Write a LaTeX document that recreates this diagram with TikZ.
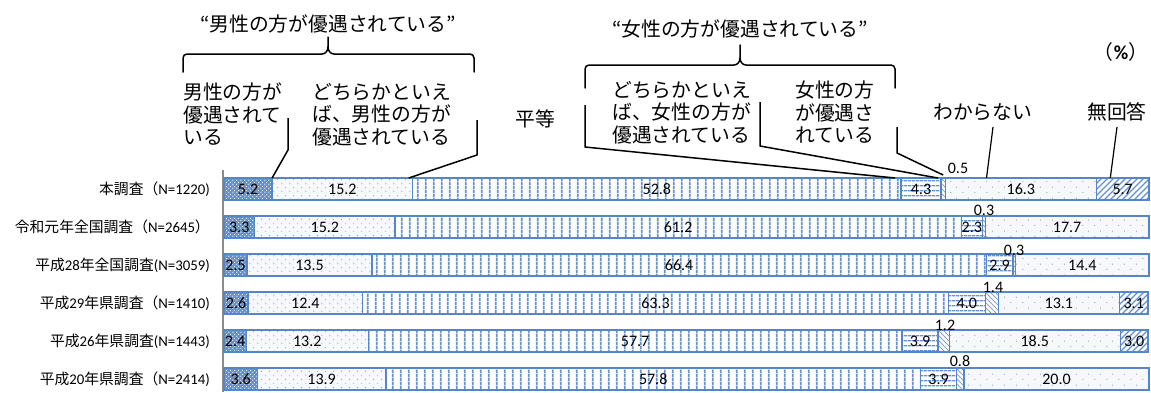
\documentclass[tikz,border=0pt]{standalone}
\usepackage{fontspec}
\setmainfont{Carlito}
\newfontfamily\jp{Noto Sans CJK JP}
\usetikzlibrary{patterns,calc}

\definecolor{bcol}{RGB}{84,134,200}
\definecolor{lcol}{RGB}{100,145,210}
\definecolor{cbg}{RGB}{100,145,210}
\definecolor{dotcol}{RGB}{145,152,165}
\definecolor{bgtwo}{RGB}{246,248,252}
\definecolor{diacol}{RGB}{140,165,200}
\definecolor{axcol}{RGB}{140,140,140}

\pgfdeclarepatternformonly{chk}{\pgfqpoint{0pt}{0pt}}{\pgfqpoint{4pt}{4pt}}{\pgfqpoint{4pt}{4pt}}{%
  \pgfpathcircle{\pgfqpoint{1pt}{1pt}}{0.8pt}\pgfpathcircle{\pgfqpoint{3pt}{3pt}}{0.8pt}\pgfusepath{fill}}
\pgfdeclarepatternformonly{dotsA}{\pgfqpoint{0pt}{0pt}}{\pgfqpoint{8pt}{8pt}}{\pgfqpoint{8pt}{8pt}}{%
  \pgfpathcircle{\pgfqpoint{2pt}{2pt}}{0.65pt}\pgfpathcircle{\pgfqpoint{6pt}{6pt}}{0.65pt}\pgfusepath{fill}}
\pgfdeclarepatternformonly{dotsB}{\pgfqpoint{0pt}{0pt}}{\pgfqpoint{12pt}{11pt}}{\pgfqpoint{12pt}{11pt}}{%
  \pgfpathcircle{\pgfqpoint{3pt}{2.75pt}}{0.65pt}\pgfpathcircle{\pgfqpoint{9pt}{8.25pt}}{0.65pt}\pgfusepath{fill}}
\pgfdeclarepatternformonly{vl}{\pgfqpoint{0pt}{0pt}}{\pgfqpoint{8.3pt}{4pt}}{\pgfqpoint{8.3pt}{4pt}}{%
  \pgfpathrectangle{\pgfqpoint{3.2pt}{0pt}}{\pgfqpoint{1.9pt}{4pt}}\pgfusepath{fill}}
\pgfdeclarepatternformonly{hl}{\pgfqpoint{0pt}{0pt}}{\pgfqpoint{4pt}{5pt}}{\pgfqpoint{4pt}{5pt}}{%
  \pgfpathrectangle{\pgfqpoint{0pt}{1.8pt}}{\pgfqpoint{4pt}{1.5pt}}\pgfusepath{fill}}
\pgfdeclarepatternformonly{nel}{\pgfqpoint{-1pt}{-1pt}}{\pgfqpoint{7pt}{7pt}}{\pgfqpoint{6pt}{6pt}}{%
  \pgfsetlinewidth{1.3pt}\pgfpathmoveto{\pgfqpoint{0pt}{0pt}}\pgfpathlineto{\pgfqpoint{6.1pt}{6.1pt}}\pgfusepath{stroke}}
\pgfdeclarepatternformonly{nwl}{\pgfqpoint{-1pt}{-1pt}}{\pgfqpoint{6pt}{6pt}}{\pgfqpoint{5pt}{5pt}}{%
  \pgfsetlinewidth{1pt}\pgfpathmoveto{\pgfqpoint{0pt}{5pt}}\pgfpathlineto{\pgfqpoint{5.1pt}{-0.1pt}}\pgfusepath{stroke}}

\tikzset{
  seg/.style={rectangle, draw=bcol, line width=1.3pt, inner sep=0pt, outer sep=0pt, minimum height=22pt},
  cat1/.style={preaction={fill=cbg}, pattern=chk, pattern color=white!80!cbg},
  cat2/.style={preaction={fill=bgtwo}, pattern=dotsA, pattern color=dotcol},
  cat3/.style={preaction={fill=white}, pattern=vl, pattern color=lcol},
  cat4/.style={preaction={fill=white}, pattern=hl, pattern color=lcol},
  cat5/.style={preaction={fill=white}, pattern=nwl, pattern color=diacol},
  cat6/.style={preaction={fill=bgtwo}, pattern=dotsB, pattern color=dotcol},
  cat7/.style={preaction={fill=white}, pattern=nel, pattern color=lcol},
  val/.style={inner sep=0pt, font=\fontsize{16}{17}\selectfont},
  rowlab/.style={inner sep=0pt, anchor=east, font=\fontsize{14.8}{16}\selectfont},
  hdr/.style={inner sep=0pt, align=left, font=\jp\fontsize{19.8}{22.5}\selectfont},
  lead/.style={draw=black, line width=1.5pt, line join=round},
  brace/.style={draw=black, line width=1.5pt, line join=round, line cap=round},
}

\newcommand\barrow[2]{%
  \gdef\xacc{224}%
  \foreach \v [count=\k] in {#2} {%
    \pgfmathsetmacro\w{\v*9.25}%
    \pgfmathsetmacro\xm{\xacc+\w/2}%
    \pgfmathsetmacro\yc{189+38*(#1-1)}%
    \node[seg, cat\k, minimum width=\w pt] (r#1s\k) at (\xm,\yc) {};%
    \ifnum\k=5\relax\else\node[val] (r#1v\k) at (r#1s\k.center) {\v};\fi
    \pgfmathsetmacro\tmp{\xacc+\w}%
    \global\let\xacc\tmp
  }%
}

\begin{document}
\begin{tikzpicture}[x=1pt,y=-1pt]
\useasboundingbox (0,0) rectangle (1151,392);

% axis
\coordinate (axt) at (223,170);
\coordinate (axb) at (223,392);
\draw[axcol, line width=2pt] (axt) -- (axb);

% bars
\barrow{1}{5.2,15.2,52.8,4.3,0.5,16.3,5.7}
\barrow{2}{3.3,15.2,61.2,2.3,0.3,17.7}
\barrow{3}{2.5,13.5,66.4,2.9,0.3,14.4}
\barrow{4}{2.6,12.4,63.3,4.0,1.4,13.1,3.1}
\barrow{5}{2.4,13.2,57.7,3.9,1.2,18.5,3.0}
\barrow{6}{3.6,13.9,57.8,3.9,0.8,20.0}

% small values above bars
\node[val] (r1v5) at (958,168) {0.5};
\node[val] (r2v5) at (984,210) {0.3};
\node[val] (r3v5) at (1014,250) {0.3};
\node[val] (r4v5) at (993,287) {1.4};
\node[val] (r5v5) at (945,325) {1.2};
\node[val] (r6v5) at (960,361) {0.8};

% row labels
\node[rowlab] (l1) at (210,189) {{\jp 本調査（}N=1220)};
\node[rowlab] (l2) at (210,227) {{\jp 令和元年全国調査（}N=2645{\jp ）}};
\node[rowlab] (l3) at (210,265) {{\jp 平成}28{\jp 年全国調査}(N=3059)};
\node[rowlab] (l4) at (210,303) {{\jp 平成}29{\jp 年県調査（}N=1410)};
\node[rowlab] (l5) at (210,341) {{\jp 平成}26{\jp 年県調査}(N=1443)};
\node[rowlab] (l6) at (210,379) {{\jp 平成}20{\jp 年県調査（}N=2414)};

% headers
\node[hdr] (q1) at (328,24) {“男性の方が優遇されている”};
\node[hdr] (q2) at (740,29) {“女性の方が優遇されている”};
\node[hdr, anchor=north west] (h1) at (183,83) {男性の方が\\優遇されて\\いる};
\node[hdr, anchor=north west] (h2) at (312,83) {どちらかといえ\\ば、男性の方が\\優遇されている};
\node[hdr] (h3) at (535,119) {平等};
\node[hdr, anchor=north west] (h4) at (612,81) {どちらかといえ\\ば、女性の方が\\優遇されている};
\node[hdr, anchor=north west] (h5) at (795,81) {女性の方\\が優遇さ\\れている};
\node[hdr, anchor=west] (h6) at (933,112) {わからない};
\node[hdr, anchor=west] (h7) at (1087,112) {無回答};
\node[hdr] (pct) at (1121,52) {（{\fontspec{Carlito}\bfseries\%}）};

% braces
\draw[brace] (183,72) -- (183,58) to[out=90,in=180] (187,54) -- (322,54) to[out=0,in=-90] (328,47) -- (328,37);
\draw[brace] (474,72) -- (474,58) to[out=90,in=0] (470,54) -- (334,54) to[out=180,in=-90] (328,47);
\draw[brace] (585,88) -- (585,69) to[out=90,in=180] (589,65) -- (734,65) to[out=0,in=-90] (740,58) -- (740,45);
\draw[brace] (895,88) -- (895,69) to[out=90,in=0] (891,65) -- (746,65) to[out=180,in=-90] (740,58);

% leader lines
\coordinate (a1) at (288,118); \coordinate (a2) at (288,150);
\draw[lead] (a1) -- (a2) -- (r1s1.north east);
\coordinate (b1) at (477,120); \coordinate (b2) at (477,155);
\draw[lead] (b1) -- (b2) -- ($(r1s2.north east)+(-4,0)$);
\coordinate (c1) at (585,105); \coordinate (c2) at (585,147);
\draw[lead] (c1) -- (c2) -- ($(r1s3.north east)+(-6,0)$);
\coordinate (d1) at (760,102); \coordinate (d2) at (760,146);
\draw[lead] (d1) -- (d2) -- ($(r1s4.north east)+(-3,0)$);
\coordinate (e1) at (897,127); \coordinate (e2) at (897,153);
\draw[lead] (e1) -- (e2) -- ($(r1s5.north)+(0,-3)$);
\coordinate (f1) at (993,127);
\draw[lead, line width=1.2pt] (f1) -- ($(r1s6.north west)+(41,0)$);
\coordinate (g1) at (1117,127);
\draw[lead, line width=1.2pt] (g1) -- ($(r1s7.north west)+(14,0)$);
\end{tikzpicture}
\end{document}
